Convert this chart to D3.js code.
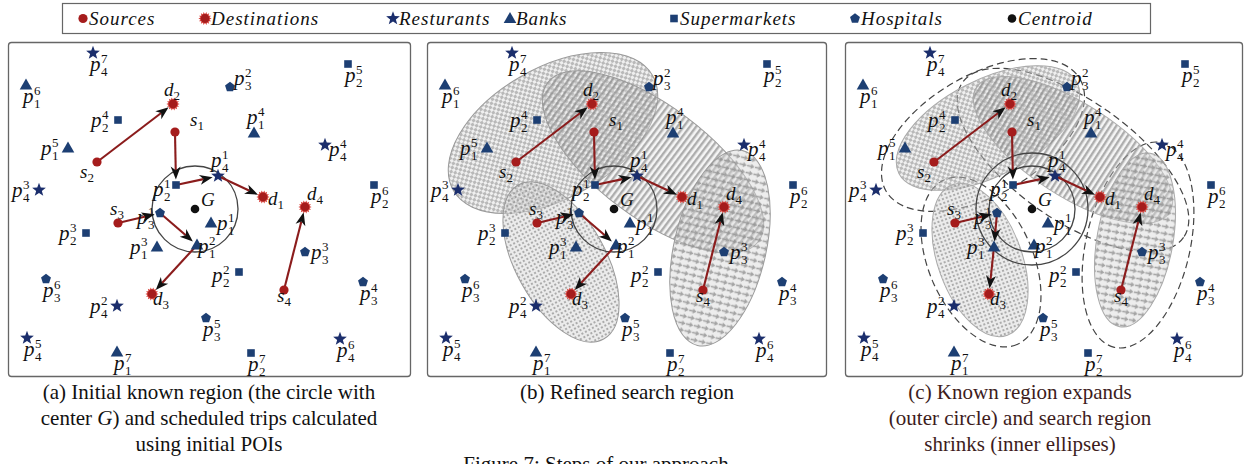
<!DOCTYPE html>
<html><head><meta charset="utf-8">
<script src="https://cdn.jsdelivr.net/npm/d3@7"></script>
<style>body{margin:0;background:#fff;}svg{display:block;}
svg text{font-family:"Liberation Serif","DejaVu Serif","Tinos","Times New Roman",Times,serif;}
</style>
</head><body>
<svg id="chart" width="1248" height="464"></svg>
<script>
// ---------------- DATA (panel-local units) ----------------
const legendLabels = ["Sources","Destinations","Resturants","Banks","Supermarkets","Hospitals","Centroid"];
const legendKinds  = ["source","dest","star","triangle","square","pentagon","centroid"];

const poiCategory = [4,4,4,4,4,4,4, 1,1,1,1,1,1,1, 2,2,2,2,2,2,2, 3,3,3,3,3,3];
const poiIndex    = [1,2,3,4,5,6,7, 1,2,3,4,5,6,7, 1,2,3,4,5,6,7, 1,2,3,4,5,6];
const poiX = [210,109,31,317,19,332,85, 203,189,149,246,60,18,109, 168,231,78,110,340,366,243, 152,222,297,355,198,38];
const poiY = [134,264,148,103,296,297,11, 181,203,205,91,106,43,310, 143,230,191,78,22,143,311, 171,45,210,240,276,237];
const poiLabelSide = ["a","l","l","rd","b","b","b", "r","br","l","a","l","b","b", "bl","ld","l","l","b","b","b", "bl","ru","r","b","b","b"];

const sourceNames = ["s1","s2","s3","s4"];
const sourceX = [167,89,110,276];
const sourceY = [90,120,181,248];
const destNames = ["d1","d2","d3","d4"];
const destX = [255,165,144,297];
const destY = [155,62,252,165];
const centroid = [187,167];
const knownRadius = [43];          // panels a, b
const knownRadiiC = [43,56];       // panel c (inner, expanded outer)

const tripsAB = [["s2","d2"],["s1","p2_1","p4_1","d1"],["s3","p3_1","p1_2","d3"],["s4","d4"]];
const tripsC  = [["s2","d2"],["s1","p2_1","p4_1","d1"],["s3","p3_1","p1_3","d3"],["s4","d4"]];

// ellipses: cx, cy, rx, ry, rotation(deg), pattern
const ellipseFill = ["checker","stripes","dots","arrows"];
const refinedCX = [126,226,134,293], refinedCY = [91,120,220,206];
const refinedRX = [115,132,88,100],  refinedRY = [65,56,45,46], refinedRot = [-30,37,61,103];
const outerCX = [138,228,136,293], outerCY = [93,118,220,203];
const outerRX = [112,135,90,105],  outerRY = [60,60,52,52], outerRot = [-30,35,66,103];
const innerCX = [143,228,135,290], innerCY = [86,108,218,198];
const innerRX = [100,115,80,88],   innerRY = [48,46,42,38], innerRot = [-27,33,70,100];

const captionA = ["(a) Initial known region (the circle with","center G) and scheduled trips calculated","using initial POIs"];
const captionB = ["(b) Refined search region"];
const captionC = ["(c) Known region expands","(outer circle) and search region","shrinks (inner ellipses)"];
const figureCaption = "Figure 7: Steps of our approach";

// ---------------- DRAWING ----------------
const svg = d3.select("#chart");
const defs = svg.append("defs");
function pattern(id,w,h,draw){const p=defs.append("pattern").attr("id",id).attr("patternUnits","userSpaceOnUse").attr("width",w).attr("height",h);draw(p);}
pattern("checker",6,6,p=>{
  p.append("rect").attr("width",6).attr("height",6).attr("fill","rgba(215,215,215,0.4)");
  p.append("rect").attr("width",3).attr("height",3).attr("fill","rgba(120,120,120,0.45)");
  p.append("rect").attr("x",3).attr("y",3).attr("width",3).attr("height",3).attr("fill","rgba(120,120,120,0.45)");
});
pattern("stripes",5,5,p=>{
  p.append("rect").attr("width",5).attr("height",5).attr("fill","rgba(225,225,225,0.35)");
  p.append("rect").attr("width",2.4).attr("height",5).attr("fill","rgba(125,125,125,0.6)");
});
pattern("dots",4,4,p=>{
  p.append("rect").attr("width",4).attr("height",4).attr("fill","rgba(215,215,215,0.5)");
  p.append("circle").attr("cx",2).attr("cy",2).attr("r",1).attr("fill","rgba(120,120,120,0.75)");
});
pattern("arrows",7,8,p=>{
  p.append("rect").attr("width",7).attr("height",8).attr("fill","rgba(215,215,215,0.45)");
  p.append("path").attr("d","M3.5,0.5 L6.2,4.2 L4.3,4.2 L4.3,8 L2.7,8 L2.7,4.2 L0.8,4.2 Z").attr("fill","rgba(140,140,140,0.75)");
});

const BLUE = "#1d3f73", STARBLUE = "#1b2e6c", RED = "#a51c1c", LINE = "#8b1c1c";

function starPath(R,r){let s="";for(let i=0;i<10;i++){const a=-Math.PI/2+i*Math.PI/5,rr=i%2?r:R;s+=(i?"L":"M")+(rr*Math.cos(a)).toFixed(2)+","+(rr*Math.sin(a)).toFixed(2);}return s+"Z";}
function polyPath(n,R){let s="";for(let i=0;i<n;i++){const a=-Math.PI/2+i*2*Math.PI/n;s+=(i?"L":"M")+(R*Math.cos(a)).toFixed(2)+","+(R*Math.sin(a)).toFixed(2);}return s+"Z";}
function burstPath(R,r,n){let s="";for(let i=0;i<2*n;i++){const a=i*Math.PI/n,rr=i%2?r:R;s+=(i?"L":"M")+(rr*Math.cos(a)).toFixed(2)+","+(rr*Math.sin(a)).toFixed(2);}return s+"Z";}

function drawMarker(g,kind,x,y){
  const t=`translate(${x},${y})`;
  if(kind==="star") g.append("path").attr("d",starPath(7.2,3)).attr("transform",t).attr("fill",STARBLUE);
  else if(kind==="triangle") g.append("path").attr("d","M0,-6.5L6.3,4.5L-6.3,4.5Z").attr("transform",t).attr("fill",BLUE);
  else if(kind==="square") g.append("rect").attr("x",x-3.8).attr("y",y-3.8).attr("width",7.6).attr("height",7.6).attr("fill",BLUE);
  else if(kind==="pentagon") g.append("path").attr("d",polyPath(5,5.2)).attr("transform",t).attr("fill",BLUE);
  else if(kind==="source") g.append("circle").attr("cx",x).attr("cy",y).attr("r",4.6).attr("fill",RED);
  else if(kind==="dest"){
    g.append("path").attr("d",burstPath(6.6,4.6,14)).attr("transform",t).attr("fill","#d9453f");
    g.append("circle").attr("cx",x).attr("cy",y).attr("r",4.4).attr("fill",RED);
  }
  else if(kind==="centroid") g.append("circle").attr("cx",x).attr("cy",y).attr("r",4.3).attr("fill","#111");
}
const catKind = {1:"triangle",2:"square",3:"pentagon",4:"star"};

// legend
const legend = svg.append("g");
legend.append("rect").attr("x",62.5).attr("y",3.5).attr("width",1088).attr("height",30).attr("fill","none").attr("stroke","#666").attr("stroke-width",1.2);
const legendMarkerX = [83,205,393,510,674,855,1012];
legendLabels.forEach((lab,i)=>{
  drawMarker(legend,legendKinds[i],legendMarkerX[i],18.5);
  legend.append("text").attr("x",legendMarkerX[i]+6).attr("y",25).text(lab)
    .style("font-style","italic").style("font-size","19px").style("letter-spacing","1px").attr("fill","#111");
});

const labelOffset = {b:[-3,18], l:[-27,7], ld:[-27,10], r:[6,7], rd:[4,11], ru:[4,-2], a:[-7,-9], bl:[-23,11], br:[1,8]};
const sdOffset = {s1:[15,-6], s2:[-17,16], s3:[-8,-8], s4:[-7,12], d1:[5,8], d2:[-9,-8], d3:[1,11], d4:[2,-7]};

const panelDefs = [
  {x0:8,  w:402, ellipses:null,  trips:tripsAB, radii:knownRadius},
  {x0:427,w:399, ellipses:"refined", trips:tripsAB, radii:knownRadius},
  {x0:845,w:397, ellipses:"shrunk", trips:tripsC, radii:knownRadiiC}
];

panelDefs.forEach(P=>{
  const xs = d3.scaleLinear().domain([0,402]).range([P.x0,P.x0+402]);
  const ys = d3.scaleLinear().domain([0,334]).range([42,376]);
  const unit = xs(1)-xs(0);
  const g = svg.append("g");
  g.append("rect").attr("x",P.x0+0.5).attr("y",42.5).attr("width",P.w).attr("height",334).attr("rx",3)
    .attr("fill","#fff").attr("stroke","#666").attr("stroke-width",1.3);

  function ell(cx,cy,rx,ry,rot,fill,stroke,dash,sw){
    const X=xs(cx),Y=ys(cy);
    const e=g.append("ellipse").attr("cx",X).attr("cy",Y).attr("rx",rx*unit).attr("ry",ry*unit)
      .attr("transform",`rotate(${rot},${X},${Y})`).attr("fill",fill).attr("stroke",stroke).attr("stroke-width",sw||1);
    if(dash) e.attr("stroke-dasharray",dash);
  }
  if(P.ellipses==="refined"){
    ellipseFill.forEach((f,i)=>ell(refinedCX[i],refinedCY[i],refinedRX[i],refinedRY[i],refinedRot[i],`url(#${f})`,"#9a9a9a"));
  } else if(P.ellipses==="shrunk"){
    ellipseFill.forEach((f,i)=>ell(outerCX[i],outerCY[i],outerRX[i],outerRY[i],outerRot[i],"none","#444","7,4",1.2));
    ellipseFill.forEach((f,i)=>ell(innerCX[i],innerCY[i],innerRX[i],innerRY[i],innerRot[i],`url(#${f})`,"#aaa"));
  }
  P.radii.forEach(r=>{
    g.append("circle").attr("cx",xs(centroid[0])).attr("cy",ys(centroid[1])).attr("r",r*unit)
      .attr("fill","none").attr("stroke","#444").attr("stroke-width",1.3);
  });

  const pos = {};
  poiX.forEach((x,i)=>{pos[`p${poiCategory[i]}_${poiIndex[i]}`]=[xs(x),ys(poiY[i])];});
  sourceNames.forEach((n,i)=>pos[n]=[xs(sourceX[i]),ys(sourceY[i])]);
  destNames.forEach((n,i)=>pos[n]=[xs(destX[i]),ys(destY[i])]);

  P.trips.forEach(trip=>{
    for(let k=0;k<trip.length-1;k++){
      const a=pos[trip[k]], b=pos[trip[k+1]];
      const dx=b[0]-a[0], dy=b[1]-a[1], L=Math.hypot(dx,dy), ux=dx/L, uy=dy/L;
      const tip=[b[0]-ux*5.5,b[1]-uy*5.5], len=13, hw=5;
      const base=[tip[0]-ux*len,tip[1]-uy*len], notch=[tip[0]-ux*len*0.72,tip[1]-uy*len*0.72];
      g.append("line").attr("x1",a[0]).attr("y1",a[1]).attr("x2",notch[0]).attr("y2",notch[1])
        .attr("stroke",LINE).attr("stroke-width",2.1);
      g.append("path").attr("d",`M${tip[0]},${tip[1]}L${base[0]-uy*hw},${base[1]+ux*hw}L${notch[0]},${notch[1]}L${base[0]+uy*hw},${base[1]-ux*hw}Z`)
        .attr("fill","#111");
    }
  });

  poiX.forEach((x,i)=>{
    const X=xs(x),Y=ys(poiY[i]);
    drawMarker(g,catKind[poiCategory[i]],X,Y);
    const o=labelOffset[poiLabelSide[i]], lx=X+o[0], ly=Y+o[1];
    const t=g.append("g").attr("fill","#111");
    t.append("text").attr("x",lx).attr("y",ly).style("font-style","italic").style("font-size","21px").text("p");
    t.append("text").attr("x",lx+11).attr("y",ly-8).style("font-size","13px").text(poiIndex[i]);
    t.append("text").attr("x",lx+11).attr("y",ly+5).style("font-size","13px").text(poiCategory[i]);
  });
  sourceNames.forEach((n,i)=>drawMarker(g,"source",pos[n][0],pos[n][1]));
  destNames.forEach((n,i)=>drawMarker(g,"dest",pos[n][0],pos[n][1]));
  sourceNames.concat(destNames).forEach(n=>{
    const o=sdOffset[n], lx=pos[n][0]+o[0], ly=pos[n][1]+o[1];
    const t=g.append("text").attr("x",lx).attr("y",ly).attr("fill","#111");
    t.append("tspan").style("font-style","italic").style("font-size","19px").text(n[0]);
    t.append("tspan").style("font-size","13px").attr("dy",4).text(n[1]);
  });
  drawMarker(g,"centroid",xs(centroid[0]),ys(centroid[1]));
  g.append("text").attr("x",xs(centroid[0])+6).attr("y",ys(centroid[1])-3)
    .style("font-style","italic").style("font-size","19px").attr("fill","#111").text("G");
});

function caption(lines,cx,color){
  lines.forEach((l,i)=>{
    const t=svg.append("text").attr("x",cx).attr("y",399+i*26).attr("text-anchor","middle")
      .style("font-size","21px").attr("fill",color);
    const parts=l.split(" G)");
    if(parts.length>1){t.append("tspan").text(parts[0]+" ");t.append("tspan").style("font-style","italic").text("G");t.append("tspan").text(")"+parts[1]);}
    else t.text(l);
  });
}
caption(captionA,209,"#111");
caption(captionB,627,"#111");
caption(captionC,1020,"#3d1c1c");
svg.append("text").attr("x",596).attr("y",471).attr("text-anchor","middle")
  .style("font-size","21px").attr("fill","#111").text(figureCaption);
</script>
</body></html>
